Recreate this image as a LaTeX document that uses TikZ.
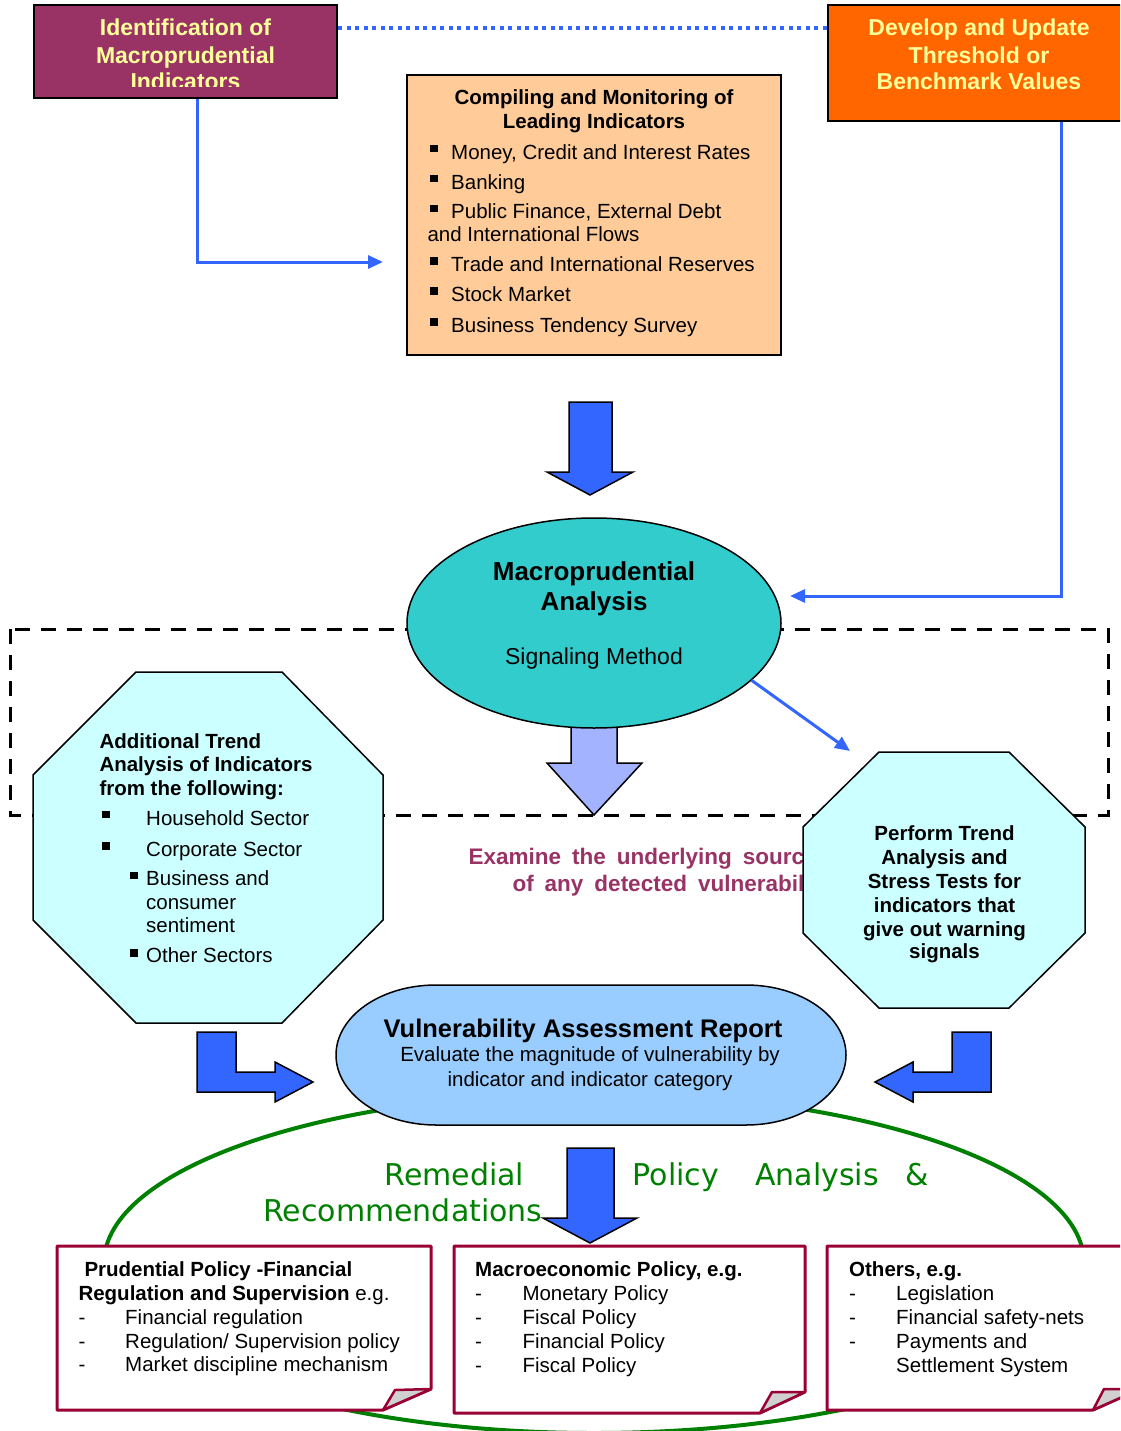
\documentclass[tikz,border=0pt]{standalone}
\usepackage{fontspec}
\setmainfont{Liberation Sans}
\newfontfamily\greenfont{DejaVu Sans}
\usetikzlibrary{arrows.meta,shapes.geometric}
\definecolor{cblue}{HTML}{3366FF}
\definecolor{cplum}{HTML}{993366}
\definecolor{cyell}{HTML}{FFFF99}
\definecolor{corange}{HTML}{FF6600}
\definecolor{cpeach}{HTML}{FFCC99}
\definecolor{cteal}{HTML}{33CCCC}
\definecolor{ccyan}{HTML}{CCFFFF}
\definecolor{crep}{HTML}{99CCFF}
\definecolor{cgreen}{HTML}{008000}
\definecolor{cred}{HTML}{990033}
\definecolor{clight}{HTML}{A3B3FF}
\definecolor{cgray}{HTML}{D0D0D0}
\newcommand\fnorm{\fontsize{20.5pt}{24pt}\selectfont}
\newcommand\fbig{\fontsize{23pt}{27pt}\selectfont}
\newcommand\fhuge{\fontsize{26pt}{30pt}\selectfont}
\newcommand\fexam{\fontsize{22.5pt}{27pt}\selectfont\spaceskip=11pt plus 1pt}
\newcommand\fgreen{\greenfont\fontsize{30pt}{36pt}\selectfont}
\begin{document}
\begin{tikzpicture}[x=1pt,y=-1pt,
  tl/.style={anchor=base west,inner sep=0pt,font=\fnorm},
  tc/.style={anchor=base,inner sep=0pt,font=\fnorm},
  conn/.style={draw=cblue,line width=3pt,-{Triangle[length=15pt,width=13pt]}},
  blk/.style={draw=black,line width=1.5pt,fill=cblue,line join=miter},
  polbox/.style={draw=cred,line width=3pt,fill=white,line join=round},
  foldst/.style={draw=cred,line width=2.5pt,fill=cgray,line join=round},
  oct/.style={draw=black,line width=1.5pt,fill=ccyan},
  ytxt/.style={anchor=base,inner sep=0pt,font=\fbig\bfseries,text=cyell},
  gtxt/.style={anchor=base west,inner sep=0pt,font=\fgreen,text=cgreen},
]
\useasboundingbox (0,0) rectangle (1120,1431);
\clip (0,0) rectangle (1120,1431);
\fill[white] (0,0) rectangle (1120,1431);

% green ellipse
\draw[draw=cgreen,line width=4pt] (594,1263) ellipse [x radius=490, y radius=170];

% dashed frame
\draw[black,line width=3pt,dash pattern=on 15pt off 11pt] (10,629) rectangle (1108,815);

% top boxes
\node[draw,line width=2.5pt,fill=cplum,minimum width=303pt,minimum height=93pt,inner sep=0pt] (idbox) at (185.5,51.5) {};
\node[draw,line width=2.5pt,fill=corange,minimum width=302pt,minimum height=116pt,inner sep=0pt] (thr) at (979,63) {};
\node[draw,line width=2pt,fill=cpeach,minimum width=374pt,minimum height=280pt,inner sep=0pt] (comp) at (594,215) {};

\begin{scope}
\clip (34,5) rectangle (337,87);
\node[ytxt] (id1) at (185.5,36) {Identification of};
\node[ytxt] (id2) at (185.5,63.3) {Macroprudential};
\node[ytxt] (id3) at (185.5,90) {Indicators};
\end{scope}
\node[ytxt] (th1) at (979,36) {Develop and Update};
\node[ytxt] (th2) at (979,63.3) {Threshold or};
\node[ytxt] (th3) at (979,90) {Benchmark Values};

% connectors
\coordinate (cdot) at (0,28);
\coordinate (cv1) at (197,0);
\coordinate (cv2) at (1061,0);
\coordinate (tgt1) at (383,262);
\coordinate (tgt2) at (790,596);
\coordinate (tgt3) at (850,751);
\draw[cblue,line width=3.5pt,dash pattern=on 4pt off 4.5pt] (idbox.east |- cdot) -- (thr.west |- cdot);
\draw[conn] (idbox.south -| cv1) |- (tgt1);
\draw[conn] (thr.south -| cv2) |- (tgt2);

% compiling box text
\node[tc,font=\fnorm\bfseries] (c1) at (594,104.3) {Compiling and Monitoring of};
\node[tc,font=\fnorm\bfseries] (c2) at (594,128.3) {Leading Indicators};
\node[tl] (c3) at (451,159.3) {Money, Credit and Interest Rates};
\node[tl] (c4) at (451,189.3) {Banking};
\node[tl] (c5) at (451,219) {Public Finance, External Debt};
\node[tl] (c6) at (427.3,241.7) {and International Flows};
\node[tl] (c7) at (451,271.7) {Trade and International Reserves};
\node[tl] (c8) at (451,301.7) {Stock Market};
\node[tl] (c9) at (451,332.3) {Business Tendency Survey};
\foreach \yy in {159.3,189.3,219,271.7,301.7,332.3}
  \fill (430,\yy-14.3) rectangle ++(7.5,7.5);

% arrow into ellipse
\draw[blk] (569,402) -- (612,402) -- (612,472) -- (633,472) -- (590,495) -- (547,472) -- (569,472) -- cycle;
% light arrow
\draw[blk,fill=clight] (571,715) -- (617,715) -- (617,763) -- (642,763) -- (594,815) -- (547,763) -- (571,763) -- cycle;

% ellipse
\node[ellipse,draw,line width=1.5pt,fill=cteal,minimum width=374pt,minimum height=210pt,inner sep=0pt] (ma) at (594,623) {};
\node[tc,font=\fhuge\bfseries] (m1) at (594,580.7) {Macroprudential};
\node[tc,font=\fhuge\bfseries] (m2) at (594,610) {Analysis};
\node[tc,font=\fbig] (m3) at (594,664) {Signaling Method};
\draw[conn] (ma.-20) -- (tgt3);

% examine text
\node[anchor=base west,inner sep=0pt,font=\fexam\bfseries,text=cplum] (ex1) at (468.3,864.3) {Examine the underlying sources};
\node[anchor=base west,inner sep=0pt,font=\fexam\bfseries,text=cplum] (ex2) at (512.3,891) {of any detected vulnerabilities};

% octagons
\draw[oct] (136,672)--(282,672)--(383,775)--(383,920)--(282,1023)--(136,1023)--(33,920)--(33,775)--cycle;
\draw[oct] (879,752)--(1009,752)--(1085,827)--(1085,933)--(1009,1008)--(879,1008)--(803,933)--(803,827)--cycle;

\node[tl,font=\fnorm\bfseries] (o1) at (99.3,748.3) {Additional Trend};
\node[tl,font=\fnorm\bfseries] (o2) at (99.3,771.7) {Analysis of Indicators};
\node[tl,font=\fnorm\bfseries] (o3) at (99.3,795) {from the following:};
\node[tl] (o4) at (146,825) {Household Sector};
\node[tl] (o5) at (146,856) {Corporate Sector};
\node[tl] (o6) at (146,885.7) {Business and};
\node[tl] (o7) at (146,909) {consumer};
\node[tl] (o8) at (146,932.7) {sentiment};
\node[tl] (o9) at (146,962.7) {Other Sectors};
\fill (102,810.7) rectangle ++(7.5,7.5);
\fill (102,842) rectangle ++(7.5,7.5);
\fill (130,871.7) rectangle ++(7.5,7.5);
\fill (130,949) rectangle ++(7.5,7.5);

\node[tc,font=\fnorm\bfseries] (p1) at (944.5,840) {Perform Trend};
\node[tc,font=\fnorm\bfseries] (p2) at (944.5,864.3) {Analysis and};
\node[tc,font=\fnorm\bfseries] (p3) at (944.5,888.3) {Stress Tests for};
\node[tc,font=\fnorm\bfseries] (p4) at (944.5,912.7) {indicators that};
\node[tc,font=\fnorm\bfseries] (p5) at (944.5,936) {give out warning};
\node[tc,font=\fnorm\bfseries] (p6) at (944.5,958.3) {signals};

% report
\draw[draw=black,line width=1.5pt,fill=crep] (436,985) -- (746,985) arc[start angle=-90,end angle=90,x radius=100,y radius=70] -- (436,1125) arc[start angle=90,end angle=270,x radius=100,y radius=70] -- cycle;
\node[tc,font=\fontsize{25.5pt}{30pt}\selectfont\bfseries] (r1) at (583,1037.3) {Vulnerability Assessment Report};
\node[tc] (r2) at (590,1061.7) {Evaluate the magnitude of vulnerability by};
\node[tc] (r3) at (590,1086) {indicator and indicator category};

% bent arrows
\draw[blk] (197,1032)--(236,1032)--(236,1072)--(275,1072)--(275,1062)--(313,1082)--(275,1102)--(275,1092)--(197,1092)--cycle;
\draw[blk] (991,1032)--(952,1032)--(952,1072)--(913,1072)--(913,1062)--(875,1082)--(913,1102)--(913,1092)--(991,1092)--cycle;

% bottom arrow
\draw[blk] (567,1148) -- (614,1148) -- (614,1218) -- (637,1218) -- (590,1243) -- (543,1218) -- (567,1218) -- cycle;

% green text
\node[gtxt] (g1) at (384.3,1185) {Remedial};
\node[gtxt] (g2) at (632.7,1185) {Policy};
\node[gtxt] (g3) at (755,1185) {Analysis};
\node[gtxt] (g4) at (905,1185) {\&};
\node[gtxt] (g5) at (263,1221.7) {Recommendations};

% bottom boxes
\draw[polbox] (57,1246) -- (431,1246) -- (431,1389) -- (383,1410) -- (57,1410) -- cycle;
\draw[foldst] (383,1410) -- (395,1390) -- (431,1389) -- cycle;
\draw[polbox] (454,1246) -- (805,1246) -- (805,1392) -- (760,1413) -- (454,1413) -- cycle;
\draw[foldst] (760,1413) -- (772,1392) -- (805,1392) -- cycle;
\draw[polbox] (827,1246) -- (1140,1246) -- (1140,1389) -- (1093,1410) -- (827,1410) -- cycle;
\draw[foldst] (1093,1410) -- (1104,1389) -- (1140,1389) -- cycle;

\node[tl,font=\fnorm\bfseries] (b1) at (84.3,1276) {Prudential Policy -Financial};
\node[tl] (b2) at (78.3,1300) {\textbf{Regulation and Supervision} e.g.};
\node[tl] (b3d) at (78.3,1324.3) {-};
\node[tl] (b3) at (125,1324.3) {Financial regulation};
\node[tl] (b4d) at (78.3,1348.3) {-};
\node[tl] (b4) at (125,1348.3) {Regulation/ Supervision policy};
\node[tl] (b5d) at (78.3,1371.7) {-};
\node[tl] (b5) at (125,1371.7) {Market discipline mechanism};

\node[tl,font=\fnorm\bfseries] (e1) at (475,1276) {Macroeconomic Policy, e.g.};
\node[tl] (e2d) at (475,1300) {-};
\node[tl] (e2) at (522.3,1300) {Monetary Policy};
\node[tl] (e3d) at (475,1324) {-};
\node[tl] (e3) at (522.3,1324) {Fiscal Policy};
\node[tl] (e4d) at (475,1348) {-};
\node[tl] (e4) at (522.3,1348) {Financial Policy};
\node[tl] (e5d) at (475,1372) {-};
\node[tl] (e5) at (522.3,1372) {Fiscal Policy};

\node[tl,font=\fnorm\bfseries] (s1) at (849,1276) {Others, e.g.};
\node[tl] (s2d) at (849,1300) {-};
\node[tl] (s2) at (896,1300) {Legislation};
\node[tl] (s3d) at (849,1324) {-};
\node[tl] (s3) at (896,1324) {Financial safety-nets};
\node[tl] (s4d) at (849,1348) {-};
\node[tl] (s4) at (896,1348) {Payments and};
\node[tl] (s5) at (896,1372) {Settlement System};
\end{tikzpicture}
\end{document}
